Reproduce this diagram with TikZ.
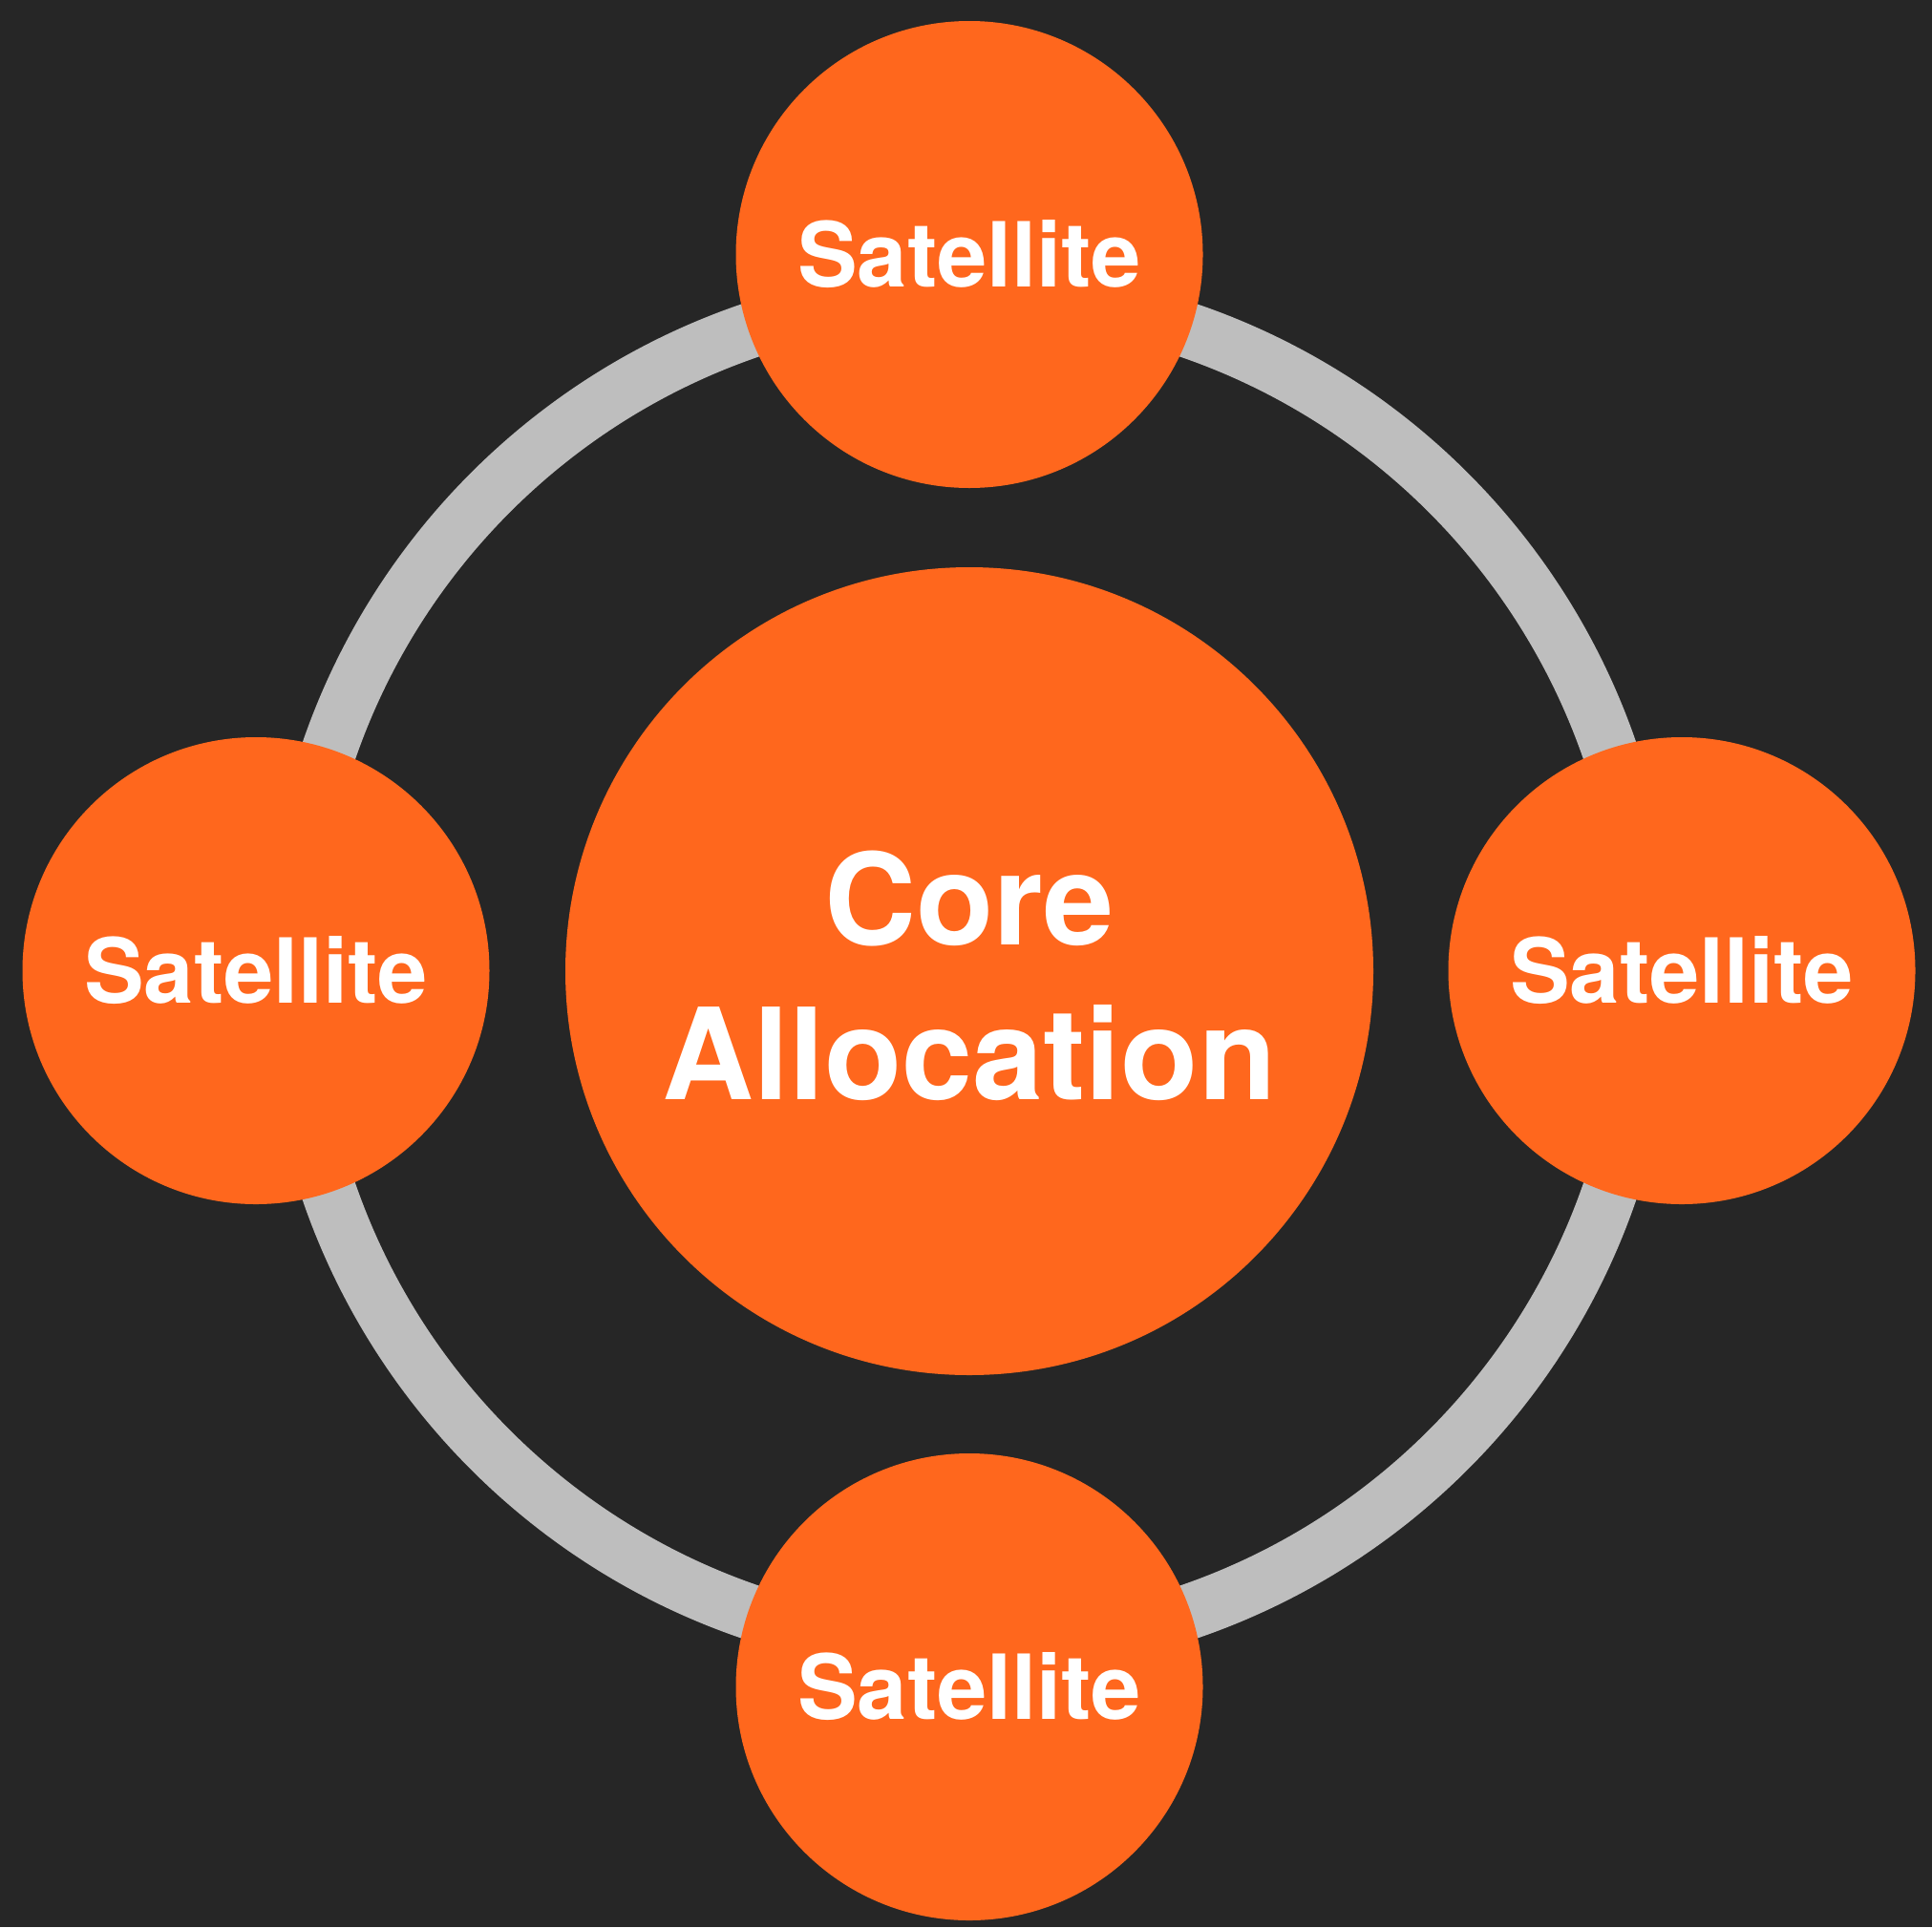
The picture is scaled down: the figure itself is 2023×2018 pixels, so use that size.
\documentclass[tikz,border=0pt]{standalone}
\usepackage{fontspec}
\setmainfont{TeX Gyre Heros}
\definecolor{bgdark}{HTML}{262626}
\definecolor{orangefill}{HTML}{FF671D}
\definecolor{ringgray}{HTML}{BEBEBE}
\tikzset{
  satnode/.style={circle, fill=orangefill, draw=none, minimum size=244.5pt, inner sep=0pt,
    text=white, font=\bfseries\fontsize{47pt}{56pt}\selectfont},
  corenode/.style={circle, fill=orangefill, draw=none, minimum size=423pt, inner sep=0pt,
    text=white, align=center, text height=134pt, text depth=0pt,
    font=\bfseries\fontsize{66.5pt}{81pt}\selectfont},
  ringline/.style={draw=ringgray, line width=29pt}
}
\begin{document}
\begin{tikzpicture}[x=0.5pt,y=-0.5pt]
\fill[bgdark] (0,0) rectangle (2023,2018);
\useasboundingbox (0,0) rectangle (2023,2018);
\node[corenode] (core) at (1015,1017) {Core\\Allocation};
\draw[ringline] (core.center) circle[radius=709];
\node[satnode] (top) at (1015,266.5) {Satellite};
\node[satnode] (bottom) at (1015,1766.5) {Satellite};
\node[satnode] (left) at (268,1016.5) {Satellite};
\node[satnode] (right) at (1761,1016.5) {Satellite};
\end{tikzpicture}
\end{document}
